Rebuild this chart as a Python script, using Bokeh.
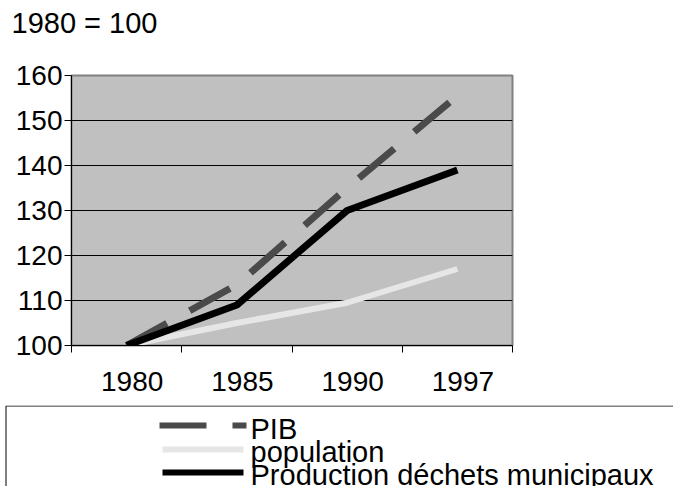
from bokeh.plotting import figure
from bokeh.models import Range1d, FixedTicker, Label, BoxAnnotation
from bokeh.embed import file_html
from bokeh.resources import INLINE

# ---- data ----
years = ["1980", "1985", "1990", "1997"]
pib = [100, 113.5, 135, 155.5]
population = [100, 105, 109.5, 117]
production = [100, 109, 130, 139]
y_ticks = [100, 110, 120, 130, 140, 150, 160]
series_names = ["PIB", "population", "Production déchets municipaux"]
series_colors = ["#4a4a4a", "#e6e6e6", "black"]
subtitle = "1980 = 100"

FONT = "Liberation Sans"
FS = "28px"
FS_TXT = "29px"
W = 673
H_HEAD, H_CHART, H_LEG = 45, 360, 81
TEXT_SHIFT = 9  # renderer places the text this much lower than the given baseline

# ---------------- header (subtitle) ----------------
head = figure(width=W, height=H_HEAD, output_backend="svg", toolbar_location=None,
              x_axis_type=None, y_axis_type=None, title=None,
              x_range=Range1d(0, 1), y_range=Range1d(0, 1),
              min_border=0, outline_line_color=None)
head.grid.visible = False
head.add_layout(Label(x=11, y=H_HEAD - (32 - TEXT_SHIFT - 1), x_units="screen", y_units="screen",
                      text=subtitle, text_font=FONT, text_font_size=FS_TXT,
                      text_color="black", text_baseline="alphabetic"))

# ---------------- chart ----------------
x = [i + 0.5 for i in range(len(years))]
label_pos = [i + 0.55 for i in range(len(years))]

p = figure(width=W, height=H_CHART, output_backend="svg", toolbar_location=None,
           title=None,
           x_range=Range1d(0, len(years)), y_range=Range1d(y_ticks[0], y_ticks[-1]),
           min_border_left=71, min_border_top=30,
           min_border_right=W - 512, min_border_bottom=60)

p.background_fill_color = "#c0c0c0"
p.border_fill_color = "white"
p.outline_line_color = "#808080"
p.outline_line_width = 2

p.xgrid.visible = False
p.ygrid.ticker = FixedTicker(ticks=y_ticks[1:-1])
p.ygrid.grid_line_color = "black"
p.ygrid.grid_line_width = 1

ya = p.yaxis[0]
ya.ticker = FixedTicker(ticks=y_ticks)
ya.major_label_text_font = FONT
ya.major_label_text_font_size = FS
ya.major_label_text_color = "black"
ya.major_tick_out = 7
ya.major_tick_in = 0
ya.minor_tick_out = 0
ya.minor_tick_in = 0
ya.major_label_standoff = 2
ya.axis_line_color = "black"
ya.major_tick_line_color = "black"

xa = p.xaxis[0]
xa.ticker = FixedTicker(ticks=label_pos, minor_ticks=list(range(len(years) + 1)))
xa.major_label_overrides = {pos: yr for pos, yr in zip(label_pos, years)}
xa.major_label_text_font = FONT
xa.major_label_text_font_size = FS
xa.major_label_text_color = "black"
xa.major_tick_line_color = None
xa.major_tick_out = 7
xa.major_tick_in = 0
xa.minor_tick_out = 7
xa.minor_tick_in = 0
xa.minor_tick_line_color = "black"
xa.major_label_standoff = 19
xa.axis_line_color = "black"

p.line(x, pib, line_color=series_colors[0], line_width=7, line_dash="46 26")
p.line(x, population, line_color=series_colors[1], line_width=6)
p.line(x, production, line_color=series_colors[2], line_width=7)

# ---------------- legend panel ----------------
leg = figure(width=W, height=H_LEG, output_backend="svg", toolbar_location=None,
             x_axis_type=None, y_axis_type=None, title=None,
             x_range=Range1d(0, 1), y_range=Range1d(0, 1),
             min_border=0, outline_line_color=None)
leg.grid.visible = False


def box(l, r, t, b, **kw):
    leg.add_layout(BoxAnnotation(left=l, right=r, top=H_LEG - t, bottom=H_LEG - b,
                                 left_units="screen", right_units="screen",
                                 top_units="screen", bottom_units="screen", **kw))


# frame of the legend (right and bottom edges lie outside the window)
box(5.5, 3000, 0.5, 3000, fill_alpha=0, line_color="black", line_alpha=1, line_width=1)

# samples
box(159, 206, 17, 23, fill_color=series_colors[0], fill_alpha=1, line_color=None)
box(232, 246, 17, 23, fill_color=series_colors[0], fill_alpha=1, line_color=None)
box(162, 243, 41, 47, fill_color=series_colors[1], fill_alpha=1, line_color=None)
box(162, 243, 64, 70, fill_color=series_colors[2], fill_alpha=1, line_color=None)

for name, base in zip(series_names, [32, 55, 78]):
    leg.add_layout(Label(x=250, y=H_LEG - (base - TEXT_SHIFT), x_units="screen", y_units="screen",
                         text=name, text_font=FONT, text_font_size=FS_TXT,
                         text_color="black", text_baseline="alphabetic"))

# three separate roots, stacked on the page (no frame alignment between them)
open("out.html", "w").write(file_html([head, p, leg], INLINE))
